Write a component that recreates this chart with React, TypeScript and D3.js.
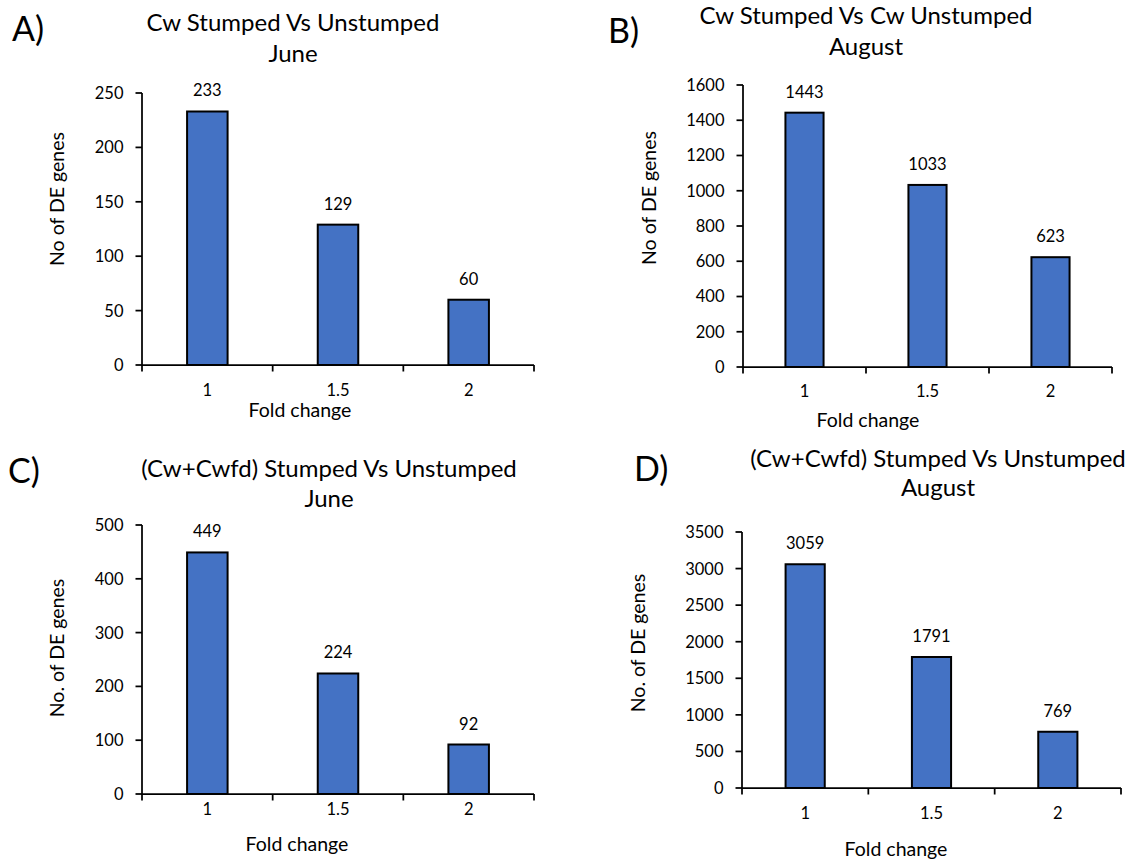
import React from "react";
import * as d3 from "d3";

// Fold-change thresholds shown on every x axis
const CATEGORIES = ["1", "1.5", "2"];

// Number of differentially expressed genes per threshold
const CW_JUNE = [233, 129, 60];
const CW_AUGUST = [1443, 1033, 623];
const MIX_JUNE = [449, 224, 92];
const MIX_AUGUST = [3059, 1791, 769];

// Y axis extents and tick steps, one per panel
const Y_MAX = [250, 1600, 500, 3500];
const Y_STEP = [50, 200, 100, 500];

const PANEL_LETTERS = ["A)", "B)", "C)", "D)"];
const TITLE_LINE1 = [
  "Cw Stumped Vs Unstumped",
  "Cw Stumped Vs Cw Unstumped",
  "(Cw+Cwfd) Stumped Vs Unstumped",
  "(Cw+Cwfd) Stumped Vs Unstumped",
];
const TITLE_LINE2 = ["June", "August", "June", "August"];
const Y_LABELS = ["No of DE genes", "No of DE genes", "No. of DE genes", "No. of DE genes"];
const X_LABEL = "Fold change";

const SERIES = [CW_JUNE, CW_AUGUST, MIX_JUNE, MIX_AUGUST];

const FONT = "Lato, 'Open Sans', sans-serif";
const BAR_FILL = "#4472C4";

// Placement of each panel on the page
const LAYOUT = [
  {
    x0: 142, x1: 534, y0: 365, yTop: 93,
    titleX: 293, title1Y: 31, title2Y: 62,
    letterX: 12, letterY: 41,
    yLabelX: 64, yLabelY: 199,
    tickLabelY: 396, xLabelX: 300, xLabelY: 417,
  },
  {
    x0: 743, x1: 1112, y0: 367, yTop: 85,
    titleX: 866, title1Y: 24, title2Y: 55,
    letterX: 608, letterY: 43,
    yLabelX: 656, yLabelY: 198,
    tickLabelY: 397, xLabelX: 868, xLabelY: 427,
  },
  {
    x0: 142, x1: 534, y0: 794, yTop: 525,
    titleX: 329, title1Y: 477, title2Y: 507,
    letterX: 8, letterY: 483,
    yLabelX: 64, yLabelY: 648,
    tickLabelY: 815, xLabelX: 297, xLabelY: 851,
  },
  {
    x0: 742, x1: 1121, y0: 788, yTop: 532,
    titleX: 938, title1Y: 467, title2Y: 496,
    letterX: 634, letterY: 481,
    yLabelX: 645, yLabelY: 643,
    tickLabelY: 819, xLabelX: 896, xLabelY: 856,
  },
];

type PanelProps = { index: number };

function Panel({ index }: PanelProps) {
  const L = LAYOUT[index];
  const values = SERIES[index];
  const yMax = Y_MAX[index];
  const yStep = Y_STEP[index];

  const y = d3.scaleLinear().domain([0, yMax]).range([L.y0, L.yTop]);
  const x = d3
    .scaleBand<string>()
    .domain(CATEGORIES)
    .range([L.x0, L.x1])
    .paddingInner(0.69)
    .paddingOuter(0.345);

  const yTicks = d3.range(0, yMax + yStep / 2, yStep);
  const step = (L.x1 - L.x0) / CATEGORIES.length;
  const xTickPos = d3.range(0, CATEGORIES.length + 1).map((i) => L.x0 + i * step);

  return (
    <g>
      <text x={L.letterX} y={L.letterY} fontSize={34} fontFamily={FONT} fill="#000">
        {PANEL_LETTERS[index]}
      </text>
      <text x={L.titleX} y={L.title1Y} fontSize={24} fontFamily={FONT} textAnchor="middle" fill="#000">
        {TITLE_LINE1[index]}
      </text>
      <text x={L.titleX} y={L.title2Y} fontSize={24} fontFamily={FONT} textAnchor="middle" fill="#000">
        {TITLE_LINE2[index]}
      </text>

      {/* bars */}
      {values.map((v, i) => (
        <rect
          key={"bar" + i}
          x={x(CATEGORIES[i])}
          y={y(v)}
          width={x.bandwidth()}
          height={L.y0 - y(v)}
          fill={BAR_FILL}
          stroke="#000"
          strokeWidth={2}
        />
      ))}

      {/* value labels */}
      {values.map((v, i) => (
        <text
          key={"lbl" + i}
          x={(x(CATEGORIES[i]) as number) + x.bandwidth() / 2}
          y={y(v) - 15}
          fontSize={16.5}
          fontFamily={FONT}
          textAnchor="middle"
          fill="#000"
        >
          {v}
        </text>
      ))}

      {/* y axis */}
      <line x1={L.x0} x2={L.x0} y1={L.yTop} y2={L.y0} stroke="#000" strokeWidth={1.75} />
      {yTicks.map((t) => (
        <g key={"yt" + t}>
          <line x1={L.x0 - 6.5} x2={L.x0} y1={y(t)} y2={y(t)} stroke="#000" strokeWidth={1.75} />
          <text
            x={L.x0 - 18.5}
            y={y(t)}
            dy="0.36em"
            fontSize={16.5}
            fontFamily={FONT}
            textAnchor="end"
            fill="#000"
          >
            {t}
          </text>
        </g>
      ))}

      {/* x axis */}
      <line x1={L.x0} x2={L.x1} y1={L.y0} y2={L.y0} stroke="#000" strokeWidth={1.75} />
      {xTickPos.map((p, i) => (
        <line key={"xt" + i} x1={p} x2={p} y1={L.y0} y2={L.y0 + 6.5} stroke="#000" strokeWidth={1.75} />
      ))}
      {CATEGORIES.map((c) => (
        <text
          key={"xl" + c}
          x={(x(c) as number) + x.bandwidth() / 2}
          y={L.tickLabelY}
          fontSize={16.5}
          fontFamily={FONT}
          textAnchor="middle"
          fill="#000"
        >
          {c}
        </text>
      ))}

      {/* axis titles */}
      <text
        x={L.xLabelX}
        y={L.xLabelY}
        fontSize={19.5}
        fontFamily={FONT}
        textAnchor="middle"
        fill="#000"
      >
        {X_LABEL}
      </text>
      <text
        transform={`translate(${L.yLabelX},${L.yLabelY}) rotate(-90)`}
        fontSize={19.5}
        fontFamily={FONT}
        textAnchor="middle"
        fill="#000"
      >
        {Y_LABELS[index]}
      </text>
    </g>
  );
}

export default function App() {
  return (
    <svg
      width={1135}
      height={859}
      viewBox="0 0 1135 859"
      style={{ position: "absolute", left: 0, top: 0, background: "#fff" }}
    >
      <rect x={0} y={0} width={1135} height={859} fill="#fff" />
      {SERIES.map((_, i) => (
        <Panel key={i} index={i} />
      ))}
    </svg>
  );
}
